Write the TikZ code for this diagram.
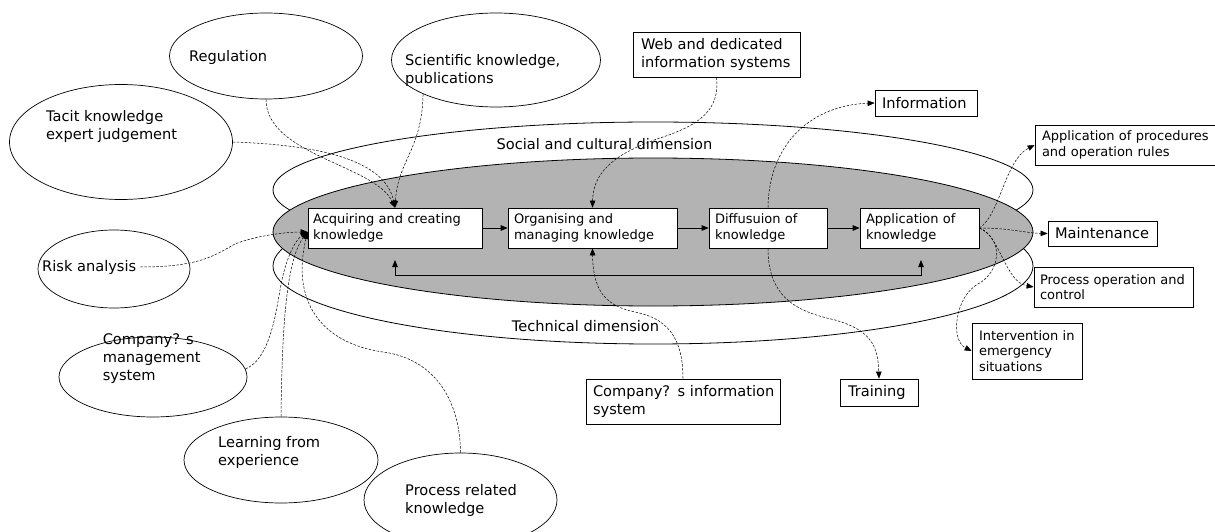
\documentclass[tikz,border=0pt]{standalone}
\usepackage{fontspec}
\setmainfont{DejaVu Sans}
\usetikzlibrary{arrows.meta,shapes.geometric}
\definecolor{procgray}{RGB}{179,179,179}
\begin{document}
\begin{tikzpicture}[x=1pt,y=-1pt,
  bub/.style={ellipse,draw,fill=white,line width=0.7pt,inner sep=0pt},
  bigell/.style={ellipse,draw,line width=0.8pt,inner sep=0pt,minimum width=760pt},
  bigt/.style={font=\fontsize{14.6}{18}\selectfont},
  smallt/.style={font=\fontsize{13}{15.5}\selectfont},
  txt/.style={inner sep=0pt,align=left,anchor=west},
  pbox/.style={rectangle,draw,fill=white,line width=0.7pt,inner ysep=0pt,align=left},
  tip/.style={-{Triangle[length=7pt,width=5.5pt]}},
  dl/.style={draw,line width=0.5pt,dash pattern=on 2.5pt off 1.5pt,tip},
  sl/.style={draw,line width=0.8pt,tip}
]
\useasboundingbox (0,0) rectangle (1215,532);
\clip (0,0) rectangle (1215,532);

% dimension ellipses
\node[bigell,fill=white,minimum height=136pt] (soc) at (653,190) {};
\node[bigell,fill=white,minimum height=156pt] (tec) at (653,266) {};
\node[bigell,fill=procgray,minimum height=148pt] (core) at (653,232) {};
\node[bigt,inner sep=0pt] (soclbl) at (604.5,144) {Social and cultural dimension};
\node[bigt,inner sep=0pt] (teclbl) at (585.5,326) {Technical dimension};

% source bubbles
\node[bub,minimum width=193pt,minimum height=86pt] (reg) at (266,56) {};
\node[bub,minimum width=209pt,minimum height=94pt] (sci) at (496,60) {};
\node[bub,minimum width=223pt,minimum height=115pt] (tac) at (121,142) {};
\node[bub,minimum width=152pt,minimum height=78pt] (rsk) at (114,269) {};
\node[bub,minimum width=188pt,minimum height=80pt] (cms) at (153,377) {};
\node[bub,minimum width=194pt,minimum height=86pt] (lfe) at (281,460) {};
\node[bub,minimum width=193pt,minimum height=94pt] (prk) at (460.5,500) {};

\node[txt,bigt] (regt) at (189,57) {Regulation};
\node[txt,bigt] (scit) at (405,70) {Scientific knowledge,\\publications};
\node[txt,bigt] (tact) at (46,126) {Tacit knowledge\\expert judgement};
\node[txt,bigt] (rskt) at (42,267) {Risk analysis};
\node[txt,bigt] (cmst) at (102.6,359) {Company? s\\management\\system};
\node[txt,bigt] (lfet) at (218,452.5) {Learning from\\experience};
\node[txt,bigt] (prkt) at (405,500.5) {Process related\\knowledge};

% process boxes
\node[pbox,smallt,inner xsep=5pt,text width=164pt,minimum height=40pt] (acq) at (395,228) {\mbox{Acquiring and creating}\\knowledge};
\node[pbox,smallt,inner xsep=6pt,text width=157pt,minimum height=40pt] (org) at (592.5,228) {\mbox{Organising and}\\\mbox{managing knowledge}};
\node[pbox,smallt,inner xsep=6pt,text width=106pt,minimum height=40pt] (dif) at (768,228) {\mbox{Diffusuion of}\\knowledge};
\node[pbox,smallt,inner xsep=6pt,text width=107pt,minimum height=40pt] (app) at (919.5,228) {\mbox{Application of}\\knowledge};

% other boxes
\node[pbox,bigt,inner xsep=8pt,text width=151pt,minimum height=45pt] (web) at (716.5,54.5) {\mbox{Web and dedicated}\\\mbox{information systems}};
\node[pbox,bigt,inner xsep=7pt,text width=88pt,minimum height=26pt] (info) at (926,103) {Information};
\node[pbox,smallt,inner xsep=7pt,text width=173pt,minimum height=40pt] (proc) at (1128.5,145) {\mbox{Application of procedures}\\\mbox{and operation rules}};
\node[pbox,bigt,inner xsep=7pt,text width=95pt,minimum height=25pt] (mnt) at (1102.5,233.5) {Maintenance};
\node[pbox,smallt,inner xsep=6pt,text width=147pt,minimum height=40pt] (poc) at (1113.5,287) {\mbox{Process operation and}\\control};
\node[pbox,smallt,inner xsep=7pt,text width=96pt,minimum height=56pt] (ies) at (1027,351) {\mbox{Intervention in}\\emergency\\situations};
\node[pbox,bigt,inner xsep=8pt,text width=62pt,minimum height=27pt] (trn) at (879,392.5) {Training};
\node[pbox,bigt,inner xsep=7pt,text width=180pt,minimum height=45pt] (cis) at (683,401.5) {\mbox{Company? s information}\\system};

% helper coordinates
\coordinate (rskout) at ([xshift=4pt]rskt.east);
\coordinate (acqin) at ([yshift=-4pt]acq.west);
\coordinate (fbl) at (395,260);
\coordinate (fbr) at (921,260);

% main flow
\draw[sl] (acq) -- (org);
\draw[sl] (org) -- (dif);
\draw[sl] (dif) -- (app);
\draw[sl,{Triangle[length=7pt,width=5.5pt]}-{Triangle[length=7pt,width=5.5pt]}] (fbl) -- ++(0,15) -| (fbr);

% inputs to acquiring
\draw[dl] (reg.south) .. controls (266,155) and (375,165) .. (acq.north);
\draw[dl] (sci.205) .. controls (422,150) and (398,160) .. (acq.north);
\draw[dl] (tac.east) .. controls (320,145) and (385,160) .. (acq.north);
\draw[dl] (rskout) .. controls (200,267) and (215,255) .. (235,244) .. controls (255,236) and (285,232) .. (acqin);
\draw[dl] (cms.5) .. controls (268,360) and (275,320) .. (280,290) .. controls (285,260) and (295,240) .. (acqin);
\draw[dl] (lfe.north) .. controls (282,330) and (286,260) .. (acqin);
\draw[dl] (prk.north) .. controls (460,395) and (430,358) .. (383,352) .. controls (320,343) and (291,300) .. (acqin);

% organising inputs
\draw[dl] (web.south) .. controls (720,110) and (700,125) .. (660,138) .. controls (610,155) and (593,175) .. (org.north);
\draw[dl] (cis.north) .. controls (683,335) and (665,318) .. (635,312) .. controls (605,306) and (593,290) .. (org.south);

% diffusion outputs
\draw[dl] (dif.north) .. controls (769,140) and (815,105) .. (info.west);
\draw[dl] (dif.south) .. controls (768,300) and (800,312) .. (835,320) .. controls (870,330) and (878,345) .. (trn.north);

% application outputs
\draw[dl] (app.east) .. controls (1000,215) and (1005,160) .. (proc.west);
\draw[dl] (app.east) .. controls (1010,228) and (1025,233) .. (mnt.west);
\draw[dl] (app.east) .. controls (1000,235) and (1005,282) .. (poc.west);
\draw[dl] (app.east) .. controls (1005,240) and (1000,272) .. (978,284) .. controls (955,297) and (950,340) .. (ies.west);
\end{tikzpicture}
\end{document}
